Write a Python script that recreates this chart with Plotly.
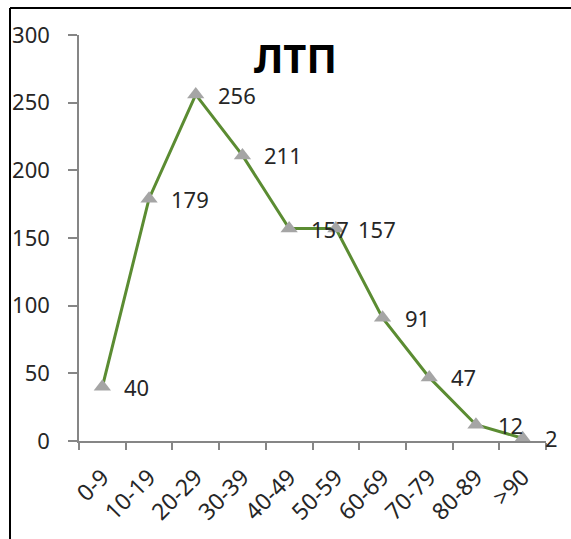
import plotly.graph_objects as go

# Age groups and counts
age_groups = ["0-9", "10-19", "20-29", "30-39", "40-49",
              "50-59", "60-69", "70-79", "80-89", ">90"]
counts = [40, 179, 256, 211, 157, 157, 91, 47, 12, 2]
y_ticks = [0, 50, 100, 150, 200, 250, 300]

W, H = 571, 539
L, R, T, B = 79, 25, 35, 98
plot_w = W - L - R
plot_h = H - T - B

FONT = "Noto Sans"
TEXT = "#262626"
AXIS = "#868686"

fig = go.Figure()
fig.add_trace(go.Scatter(
    x=age_groups, y=counts, mode="lines+markers",
    line=dict(color="#5B8C32", width=3),
    marker=dict(symbol="triangle-up", size=15, color="#A5A5A5"),
    hoverinfo="x+y", showlegend=False,
))

# value labels to the right of each point
for cat, v in zip(age_groups, counts):
    fig.add_annotation(x=cat, y=v, text=str(v), showarrow=False,
                       xanchor="left", yanchor="middle", xshift=20,
                       font=dict(family=FONT, size=22, color=TEXT))

# chart title
fig.add_annotation(xref="paper", yref="paper",
                   x=(295 - L) / plot_w, y=(H - B - 58) / plot_h,
                   text="<b>ЛТП</b>", showarrow=False,
                   xanchor="center", yanchor="middle",
                   font=dict(family=FONT, size=40, color="#000000"))

# frame along the top and left edges
px = lambda p: (p - L) / plot_w
py = lambda p: (H - B - p) / plot_h
fig.add_shape(type="line", xref="paper", yref="paper",
              x0=px(10), x1=px(W + 5), y0=py(8), y1=py(8),
              line=dict(color="#000000", width=2))
fig.add_shape(type="line", xref="paper", yref="paper",
              x0=px(10), x1=px(10), y0=py(8), y1=py(H + 5),
              line=dict(color="#000000", width=2))

fig.update_layout(
    width=W, height=H,
    margin=dict(l=L, r=R, t=T, b=B, pad=0),
    paper_bgcolor="white", plot_bgcolor="white",
    font=dict(family=FONT, size=22, color=TEXT),
    xaxis=dict(type="category", range=[-0.5, 9.5],
               showline=True, linecolor=AXIS, linewidth=1.5,
               ticks="outside", tickson="boundaries", ticklen=7,
               tickcolor=AXIS, tickwidth=1.5, tickangle=-45,
               showgrid=False, zeroline=False, ticklabelstandoff=12,
               tickfont=dict(family=FONT, size=23, color=TEXT)),
    yaxis=dict(range=[0, 300], tickvals=y_ticks,
               showline=True, linecolor=AXIS, linewidth=1.5,
               ticks="outside", ticklen=9, tickcolor=AXIS, tickwidth=1.5,
               showgrid=False, zeroline=False, ticklabelstandoff=14,
               tickfont=dict(family=FONT, size=22, color=TEXT)),
)

fig.write_html("out.html")
